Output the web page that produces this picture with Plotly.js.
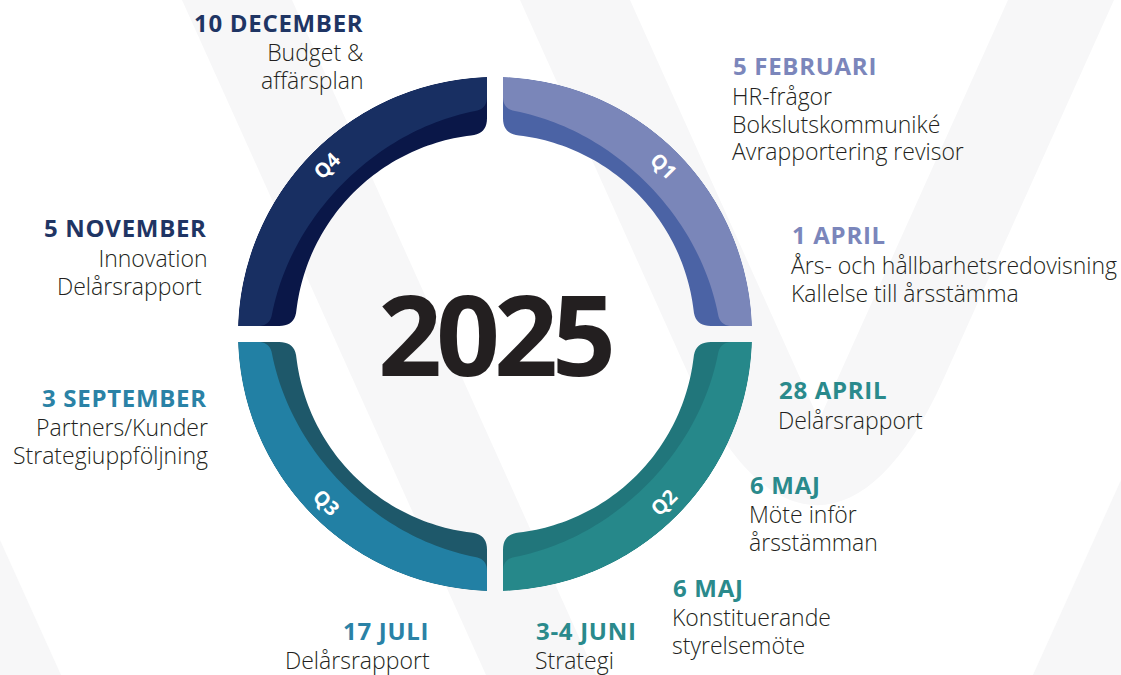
<!DOCTYPE html>
<html>
<head>
<meta charset="utf-8">
<script src="https://cdn.plot.ly/plotly-3.0.1.min.js"></script>
<style>html,body{margin:0;padding:0;background:#fff;}#chart{width:1121px;height:675px;}</style>
</head>
<body>
<div id="chart"></div>
<script>
// ---- data ----
const quarters = ['Q1', 'Q2', 'Q3', 'Q4'];
const quarterCenters = [45, 135, 225, 315];          // degrees, clockwise from top
const faceColors = ['#7a86b9', '#26888a', '#2280a4', '#182f62'];
const edgeColors = ['#4b63a5', '#21767b', '#1e586a', '#0a1748'];
const headColors = ['#7b86bb', '#2a8a8c', '#2a82a6', '#1f3564'];

const year = '2025';

const evHead = ['5 FEBRUARI', '1 APRIL', '28 APRIL', '6 MAJ', '6 MAJ', '3-4 JUNI', '17 JULI', '3 SEPTEMBER', '5 NOVEMBER', '10 DECEMBER'];
const evBody = [
  ['HR-frågor', 'Bokslutskommuniké', 'Avrapportering revisor'],
  ['Års- och hållbarhetsredovisning', 'Kallelse till årsstämma'],
  ['Delårsrapport'],
  ['Möte inför', 'årsstämman'],
  ['Konstituerande', 'styrelsemöte'],
  ['Strategi'],
  ['Delårsrapport'],
  ['Partners/Kunder', 'Strategiuppföljning'],
  ['Innovation', 'Delårsrapport\u00a0'],
  ['Budget &', 'affärsplan']
];
const evQuarter = [0, 0, 1, 1, 1, 1, 2, 2, 3, 3];

// ---- layout geometry (pixels) ----
const W = 1121, H = 675;
const CX = 495, CY = 334, R = 257;
const GAP = 8;                 // half of the straight gap between quarters
const R_IN = 200;              // inner radius of the dark rim
const evPos = [
  [731, 66, 'left'], [790, 235, 'left'], [777, 390, 'left'], [748, 484, 'left'], [671, 587, 'left'],
  [534, 630, 'left'], [431, 630, 'right'], [209, 397, 'right'], [209, 228, 'right'], [365, 22, 'right']
];
const LINE = 27.5;
const BODY_SIZE = 23;

const px = x => x / W;
const py = y => 1 - y / H;

// ---- ring geometry helpers (local quadrant coords, x right, y up) ----
function bisect(f, lo, hi) {
  let flo = f(lo);
  for (let i = 0; i < 60; i++) {
    const mid = (lo + hi) / 2, fm = f(mid);
    if ((fm > 0) === (flo > 0)) { lo = mid; flo = fm; } else { hi = mid; }
  }
  return (lo + hi) / 2;
}
function quad(A, V, B, n) {
  const out = [];
  for (let k = 0; k <= n; k++) {
    const t = k / n, u = 1 - t;
    out.push([u * u * A[0] + 2 * u * t * V[0] + t * t * B[0], u * u * A[1] + 2 * u * t * V[1] + t * t * B[1]]);
  }
  return out;
}
function quadrantOutline(rOut, rInFn, g, c) {
  const pts = [];
  const yTop = Math.sqrt(rOut * rOut - g * g);
  const pA = Math.atan2(yTop, g), pB = Math.atan2(g, yTop);
  const N = 80;
  for (let k = 0; k <= N; k++) {
    const p = pA + (pB - pA) * k / N;
    pts.push([rOut * Math.cos(p), rOut * Math.sin(p)]);
  }
  const inner = p => [rInFn(p) * Math.cos(p), rInFn(p) * Math.sin(p)];
  const p2 = bisect(p => rInFn(p) * Math.sin(p) - g, 0, Math.PI / 4);
  const p1 = bisect(p => rInFn(p) * Math.cos(p) - g, Math.PI / 4, Math.PI / 2);
  const V2 = inner(p2), V1 = inner(p1);
  const d2 = c / rInFn(p2), d1 = c / rInFn(p1);
  quad([V2[0] + c, g], [V2[0], g], inner(p2 + d2), 10).forEach(q => pts.push(q));
  const M = 60;
  for (let k = 1; k < M; k++) {
    const p = (p2 + d2) + ((p1 - d1) - (p2 + d2)) * k / M;
    pts.push(inner(p));
  }
  quad(inner(p1 - d1), [g, V1[1]], [g, V1[1] + c], 10).forEach(q => pts.push(q));
  pts.push(pts[0]);
  return pts;
}
const reflect = [[1, 1], [1, -1], [-1, -1], [-1, 1]];
function toPolar(pts, qi) {
  const [sx, sy] = reflect[qi];
  const r = [], th = [];
  pts.forEach(([x, y]) => {
    const X = x * sx, Y = y * sy;
    r.push(Math.hypot(X, Y));
    th.push(Math.atan2(X, Y) * 180 / Math.PI);
  });
  return {r, th};
}

const darkShape = quadrantOutline(R, () => R_IN, GAP, 16);
const faceShape = quadrantOutline(R, p => 226 - 12 * Math.sin(2 * p), GAP, 12);

const traces = [];
quarters.forEach((q, i) => {
  [[darkShape, edgeColors[i]], [faceShape, faceColors[i]]].forEach(([shape, col]) => {
    const {r, th} = toPolar(shape, i);
    traces.push({
      type: 'scatterpolar', mode: 'lines', r: r, theta: th, fill: 'toself',
      fillcolor: col, line: {width: 0, color: col}, hoverinfo: 'skip', showlegend: false, name: q
    });
  });
});

// ---- annotations ----
const annotations = [];
annotations.push({
  x: px(CX), y: py(CY - 2), xref: 'paper', yref: 'paper', showarrow: false,
  text: '<span style="letter-spacing:-6px">' + year + '</span>',
  font: {family: 'Open Sans', size: 112, color: '#231f20', weight: 700},
  xanchor: 'center', yanchor: 'middle'
});

const qRad = 238;
const qAngle = [45, -45, 45, -45];
quarters.forEach((q, i) => {
  const a = quarterCenters[i] * Math.PI / 180;
  annotations.push({
    x: px(CX + qRad * Math.sin(a)), y: py(CY - qRad * Math.cos(a)), xref: 'paper', yref: 'paper',
    showarrow: false, text: q, textangle: qAngle[i],
    font: {family: 'Open Sans', size: 20, color: '#ffffff', weight: 700},
    xanchor: 'center', yanchor: 'middle'
  });
});

evHead.forEach((h, i) => {
  const [x, y, al] = evPos[i];
  annotations.push({
    x: px(x), y: py(y), xref: 'paper', yref: 'paper', showarrow: false,
    text: '<span style="letter-spacing:0.7px">' + h + '</span>', xanchor: al, yanchor: 'middle', align: al,
    font: {family: 'Open Sans', size: 24, color: headColors[evQuarter[i]], weight: 700}
  });
  const n = evBody[i].length;
  annotations.push({
    x: px(x), y: py(y + 30 + (n - 1) * LINE / 2), xref: 'paper', yref: 'paper', showarrow: false,
    text: evBody[i].map(t => `<span style="font-size:${BODY_SIZE}px">${t}</span>`).join('<br>'),
    xanchor: al, yanchor: 'middle', align: al, borderpad: 0,
    font: {family: 'Open Sans', size: LINE / 1.3, color: '#231f20', weight: 300}
  });
});

// faint background "V" marks
const P = (x, y) => `${px(x)} ${py(y)}`;
const bgShapes = [
  `M ${P(182, 0)} L ${P(292, 0)} L ${P(596, 675)} L ${P(486, 675)} Z`,
  `M ${P(520, 0)} L ${P(630, 0)} L ${P(819, 420)} L ${P(1008, 0)} L ${P(1114, 0)} L ${P(943, 380)} C ${P(868, 547)} ${P(766, 547)} ${P(691, 380)} Z`,
  `M ${P(1033, 675)} L ${P(1121, 480)} L ${P(1121, 675)} Z`,
  `M ${P(0, 540)} L ${P(61, 675)} L ${P(0, 675)} Z`
];

const layout = {
  width: W, height: H, margin: {l: 0, r: 0, t: 0, b: 0},
  paper_bgcolor: '#ffffff', plot_bgcolor: '#ffffff', showlegend: false,
  polar: {
    domain: {x: [px(CX - R), px(CX + R)], y: [py(CY + R), py(CY - R)]},
    bgcolor: 'rgba(0,0,0,0)',
    radialaxis: {range: [0, R], visible: false, showgrid: false},
    angularaxis: {visible: false, showgrid: false, direction: 'clockwise', rotation: 90}
  },
  shapes: bgShapes.map(p => ({type: 'path', layer: 'below', xref: 'paper', yref: 'paper',
    line: {width: 0}, fillcolor: '#f7f7f8', path: p})),
  annotations: annotations
};

Plotly.newPlot('chart', traces, layout, {displayModeBar: false, staticPlot: true});
</script>
</body>
</html>
